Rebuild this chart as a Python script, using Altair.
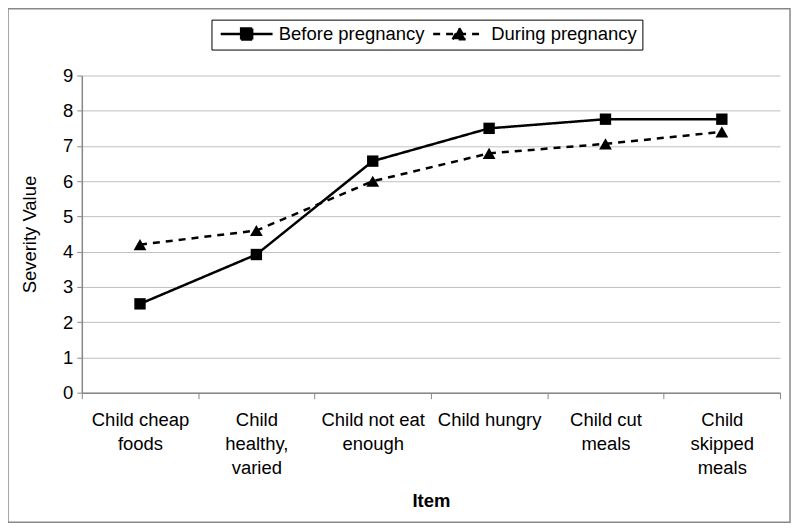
import json
import altair as alt
import pandas as pd

# ---- data ----
items = ["Child cheap foods", "Child healthy, varied", "Child not eat enough",
         "Child hungry", "Child cut meals", "Child skipped meals"]
item_labels = [["Child cheap", "foods"], ["Child", "healthy,", "varied"],
               ["Child not eat", "enough"], ["Child hungry"],
               ["Child cut", "meals"], ["Child", "skipped", "meals"]]
series = ["Before pregnancy", "During pregnancy"]
before = [2.52, 3.92, 6.57, 7.5, 7.76, 7.76]
during = [4.2, 4.6, 6.0, 6.79, 7.06, 7.4]
y_ticks = [0, 1, 2, 3, 4, 5, 6, 7, 8, 9]

rows = []
for name, vals in zip(series, [before, during]):
    for it, v in zip(items, vals):
        rows.append({"Item": it, "Series": name, "Value": v})
df = pd.DataFrame(rows)

FONT = "Liberation Sans"
FS = 18.5
label_expr = json.dumps(dict(zip(items, item_labels))) + "[datum.value]"

x_enc = alt.X("Item:N", sort=items, title="Item",
              scale=alt.Scale(paddingInner=0, paddingOuter=0),
              axis=alt.Axis(labelExpr=label_expr, labelAngle=0, tickBand="extent",
                            labelFontSize=FS, labelLineHeight=24, labelPadding=12,
                            labelBaseline="top", tickSize=6, titlePadding=15,
                            titleFontSize=FS, titleFontWeight="bold", grid=False))
y_enc = alt.Y("Value:Q", title="Severity Value",
              scale=alt.Scale(domain=[0, 9], nice=False),
              axis=alt.Axis(values=y_ticks, labelFontSize=FS, tickSize=5,
                            labelPadding=4, titlePadding=23, titleFontSize=FS,
                            titleFontWeight="normal", grid=True, gridColor="#c0c0c0",
                            labelOverlap=False))

# legend symbol: a short line segment with the series' marker in its middle
sym_shape = ("datum.value === 'Before pregnancy' ? "
             "'M-5.2,0H5.2M-1.1,-1.1H1.1V1.1H-1.1Z' : "
             "'M-5.2,0H5.2M0,-1.2L1.3,1.05H-1.3Z'")

base = alt.Chart(df)

lines = base.mark_line(color="black", strokeWidth=2.5).encode(
    x=x_enc, y=y_enc,
    strokeDash=alt.StrokeDash(
        "Series:N", scale=alt.Scale(domain=series, range=[[1, 0], [7, 6]]),
        legend=alt.Legend(orient="none", legendX=130, legendY=-56,
                          direction="horizontal", title=None,
                          symbolType=alt.ExprRef(expr=sym_shape),
                          symbolSize=100, symbolStrokeWidth=2.5,
                          symbolOffset=21,
                          symbolFillColor="black", symbolStrokeColor="black",
                          symbolOpacity=1,
                          labelFontSize=FS, labelFont=FONT, labelColor="black",
                          labelOffset=23, columnPadding=3, padding=5,
                          strokeColor="black")),
)

marker_styles = [("square", 130), ("triangle-up", 165)]
point_layers = []
for name, (mk, sz) in zip(series, marker_styles):
    point_layers.append(
        base.transform_filter(alt.datum.Series == name)
        .mark_point(filled=True, color="black", opacity=1, size=sz, shape=mk)
        .encode(x=x_enc, y=y_enc)
    )

border = alt.Chart(alt.Data(values=[{}])).mark_rect(
    filled=False, stroke="#888888", strokeWidth=1.5
).encode(x=alt.value(-74), x2=alt.value(710), y=alt.value(-67), y2=alt.value(448))

chart = alt.layer(border, lines, *point_layers).properties(
    width=700, height=318,
    autosize=alt.AutoSizeParams(type="none"),
    padding={"left": 74, "top": 67, "right": 12, "bottom": 131},
).configure_view(stroke=None).configure_axis(
    labelFont=FONT, titleFont=FONT, labelColor="black", titleColor="black",
    domainColor="#888888", tickColor="#888888", domainWidth=1.5,
).configure_legend(labelFont=FONT)

chart.save("out.html", embed_options={"renderer": "svg", "actions": False})
